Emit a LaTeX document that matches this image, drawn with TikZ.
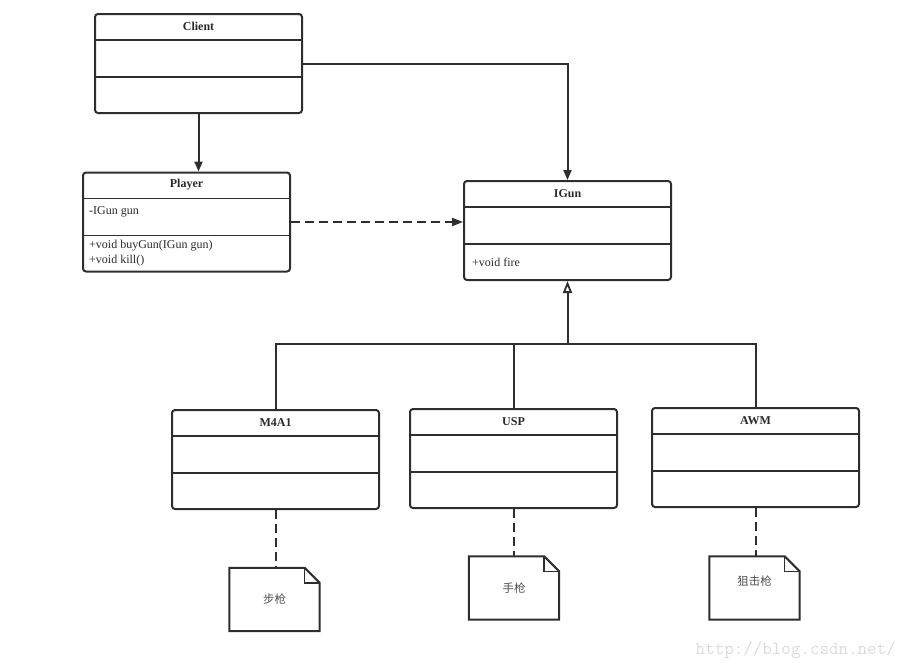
\documentclass[tikz,border=0pt]{standalone}
\usepackage{fontspec}
\setmainfont{Liberation Serif}
\newfontfamily\cjk{Noto Sans CJK SC}
\usetikzlibrary{calc,arrows.meta}
\definecolor{ln}{HTML}{2E2E2E}
\definecolor{tx}{HTML}{2A2A2A}
\definecolor{nt}{HTML}{505050}
\begin{document}
\begin{tikzpicture}[x=1pt,y=-1pt,
  cls/.style={draw=ln, line width=2pt, rounded corners=3pt, minimum width=207pt, minimum height=99pt, inner sep=0pt},
  sep/.style={draw=ln, line width=1.8pt},
  title/.style={font=\bfseries\fontsize{12}{14}\selectfont, text=tx, inner sep=0pt},
  attr/.style={font=\fontsize{12}{14}\selectfont, text=tx, inner sep=0pt, anchor=west},
  notebox/.style={minimum width=90pt, minimum height=63pt, inner sep=0pt},
  notetext/.style={font=\cjk\fontsize{11.5}{13}\selectfont, text=nt, inner sep=0pt},
  conn/.style={draw=ln, line width=2pt},
  arr/.style={conn, -{Triangle[length=10pt,width=8pt]}},
  dsh/.style={conn, dash pattern=on 9pt off 5pt},
  inh/.style={conn, -{Triangle[open, length=12pt, width=9pt, line width=1.8pt]}}
]
\useasboundingbox (0,0) rectangle (907,667);

% class boxes
\node[cls] (client) at (198.5,63.5) {};
\node[cls] (player) at (186.5,222) {};
\node[cls] (igun)   at (567.5,230.5) {};
\node[cls] (m4a1)   at (275.5,459.5) {};
\node[cls] (usp)    at (513.5,458.5) {};
\node[cls] (awm)    at (755.5,457.5) {};

% compartments
\foreach \c in {client,player,igun,m4a1,usp,awm}{
  \draw[sep] ($(\c.north west)+(0,27)$) -- ($(\c.north east)+(0,27)$);
  \draw[sep] ($(\c.north west)+(0,64)$) -- ($(\c.north east)+(0,64)$);
}

% titles
\node[title] (clientT) at ($(client.north)+(0,13.5)$) {Client};
\node[title] (playerT) at ($(player.north)+(0,13.5)$) {Player};
\node[title] (igunT)   at ($(igun.north)+(0,13.5)$) {IGun};
\node[title] (m4a1T)   at ($(m4a1.north)+(0,13.5)$) {M4A1};
\node[title] (uspT)    at ($(usp.north)+(0,13.5)$) {USP};
\node[title] (awmT)    at ($(awm.north)+(0,13.5)$) {AWM};

% members
\node[attr] (pa1) at ($(player.north west)+(7,40)$) {-IGun gun};
\node[attr] (pm1) at ($(player.north west)+(7,74)$) {+void buyGun(IGun gun)};
\node[attr] (pm2) at ($(player.north west)+(7,89)$) {+void kill()};
\node[attr] (gm1) at ($(igun.north west)+(9,82)$) {+void fire};

% notes
\node[notebox] (n1) at (274.5,599.5) {};
\node[notebox] (n2) at (514,588) {};
\node[notebox] (n3) at (754.5,588) {};
\foreach \n in {n1,n2,n3}{
  \draw[conn] (\n.north west) -- ($(\n.north east)+(-15,0)$) -- ($(\n.north east)+(0,15)$) -- (\n.south east) -- (\n.south west) -- cycle;
  \draw[conn, line width=1.5pt] ($(\n.north east)+(-15,0)$) |- ($(\n.north east)+(0,15)$);
}
\node[notetext] (n1t) at (n1.center) {步枪};
\node[notetext] (n2t) at (n2.center) {手枪};
\node[notetext] (n3t) at ($(n3.center)+(0,-7)$) {狙击枪};

% connectors
\draw[arr] (client.east) -| (igun.north);
\draw[arr] (client.south) -- (client.south |- player.north);
\draw[dsh, -{Triangle[length=11pt,width=8pt]}] (player.east) -- (player.east -| igun.west);

\coordinate (bus) at (567.5,344);
\draw[conn] (m4a1.north) |- (bus);
\draw[conn] (usp.north) |- (bus);
\draw[conn] (awm.north) |- (bus);
\draw[inh] (bus) -- (igun.south);

\draw[dsh] (m4a1.south) -- (m4a1.south |- n1.north);
\draw[dsh] (usp.south) -- (usp.south |- n2.north);
\draw[dsh] (awm.south) -- (awm.south |- n3.north);

% watermark
\node[anchor=base east, inner sep=0pt, text=gray!28, font=\ttfamily\fontsize{18.5}{20}\selectfont] (wm) at (896,654) {http://blog.csdn.net/};
\end{tikzpicture}
\end{document}
